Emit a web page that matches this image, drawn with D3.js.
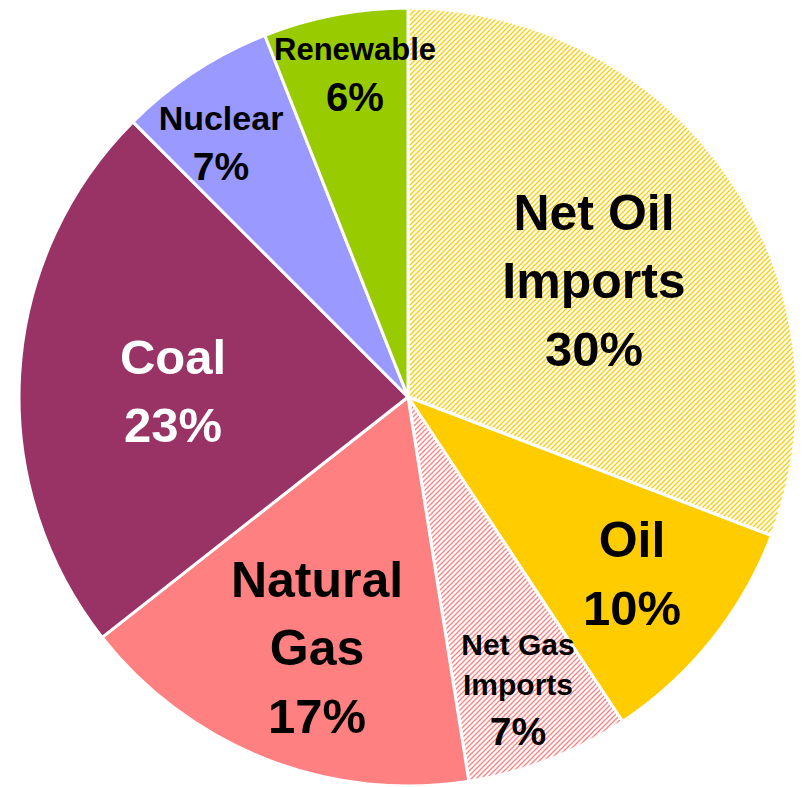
<!DOCTYPE html>
<html>
<head>
<meta charset="utf-8">
<script src="https://cdn.jsdelivr.net/npm/d3@7"></script>
<style>
  html, body { margin: 0; padding: 0; background: #fff; }
  svg { display: block; }
  text { font-family: "Liberation Sans", Arial, sans-serif; font-weight: bold; }
</style>
</head>
<body>
<div id="chart"></div>
<script>
// ---- data ----
const categories = ["Net Oil Imports", "Oil", "Net Gas Imports", "Natural Gas", "Coal", "Nuclear", "Renewable"];
const shares = [30.8, 9.9, 6.8, 16.9, 23.1, 6.5, 6.0];        // slice sizes as measured from arc angles
const percentLabels = ["30%", "10%", "7%", "17%", "23%", "7%", "6%"];
const nameLines = [["Net Oil", "Imports"], ["Oil"], ["Net Gas", "Imports"], ["Natural", "Gas"], ["Coal"], ["Nuclear"], ["Renewable"]];

// ---- styles / layout ----
const W = 805, H = 787;
const cx = 408, cy = 397, R = 389;
const fills = ["hatchOil", "#FFCC00", "hatchGas", "#FF8080", "#993366", "#9999FF", "#99CC00"];
const textColors = ["#000", "#000", "#000", "#000", "#fff", "#000", "#000"];
// label layout: first-baseline offset from pie centre, font sizes, line spacing
const labelLayout = [
  {dx: 186, dy: -167, name: 50, pct: 49, gap: 68},
  {dx: 224, dy: 160,  name: 50, pct: 49, gap: 68},
  {dx: 110, dy: 258,  name: 30, pct: 39, gap: 40, pctGap: 50},
  {dx: -91, dy: 200,  name: 50, pct: 49, gap: 68},
  {dx: -235, dy: -23, name: 49, pct: 49, gap: 68},
  {dx: -187, dy: -267, name: 34, pct: 39, gap: 50},
  {dx: -53, dy: -337, name: 31, pct: 40, gap: 51}
];

const svg = d3.select("#chart").append("svg").attr("width", W).attr("height", H);
const defs = svg.append("defs");

function hatch(id, color) {
  const p = defs.append("pattern").attr("id", id)
    .attr("patternUnits", "userSpaceOnUse").attr("width", 5).attr("height", 5);
  p.append("rect").attr("width", 5).attr("height", 5).attr("fill", "#fff");
  p.append("path").attr("d", "M-1,1 L1,-1 M0,5 L5,0 M4,6 L6,4")
    .attr("stroke", color).attr("stroke-width", 1.3).attr("fill", "none");
}
hatch("hatchOil", "#FFCC00");
hatch("hatchGas", "#FF8080");

const pie = d3.pie().sort(null).value(d => d)(shares);
const arc = d3.arc().innerRadius(0).outerRadius(R);

const g = svg.append("g").attr("transform", `translate(${cx},${cy})`);

g.selectAll("path.slice").data(pie).join("path")
  .attr("class", "slice")
  .attr("d", arc)
  .attr("fill", (d, i) => fills[i].startsWith("hatch") ? `url(#${fills[i]})` : fills[i])
  .attr("stroke", "#fff")
  .attr("stroke-width", 3)
  .attr("stroke-linejoin", "round");

const labels = g.selectAll("g.label").data(pie).join("g")
  .attr("class", "label")
  .attr("transform", (d, i) => `translate(${labelLayout[i].dx},${labelLayout[i].dy})`);

labels.each(function(d, i) {
  const L = labelLayout[i];
  const sel = d3.select(this);
  let y = 0;
  nameLines[i].forEach((line, k) => {
    if (k > 0) y += L.gap;
    sel.append("text").attr("x", 0).attr("y", y)
      .attr("text-anchor", "middle")
      .attr("font-size", L.name)
      .attr("fill", textColors[i])
      .text(line);
  });
  y += (L.pctGap || L.gap);
  sel.append("text").attr("x", 0).attr("y", y)
    .attr("text-anchor", "middle")
    .attr("font-size", L.pct)
    .attr("fill", textColors[i])
    .text(percentLabels[i]);
});
</script>
</body>
</html>
